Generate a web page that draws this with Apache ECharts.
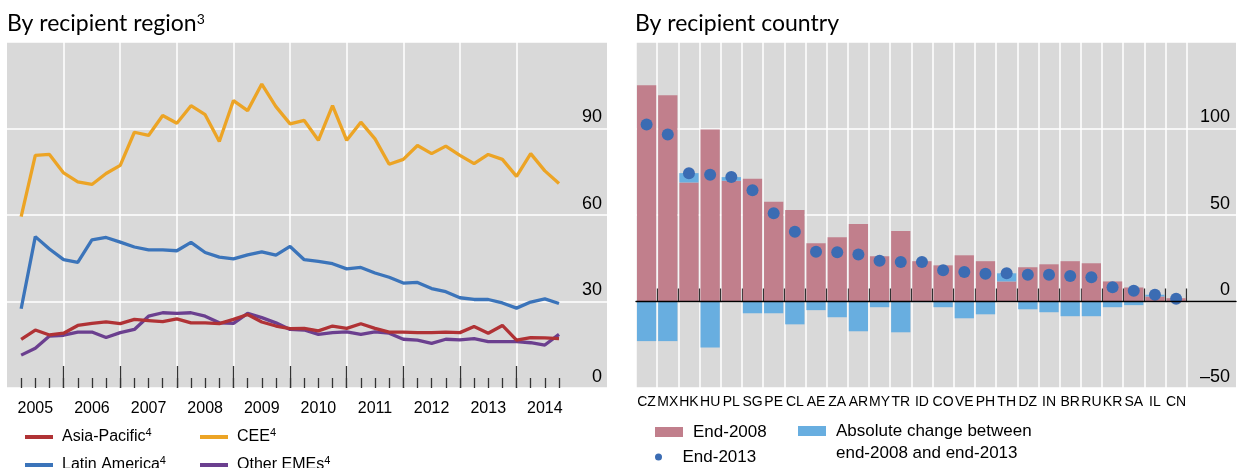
<!DOCTYPE html>
<html>
<head>
<meta charset="utf-8">
<script src="https://cdn.jsdelivr.net/npm/echarts@6.0.0/dist/echarts.min.js"></script>
<style>
  html, body { margin: 0; padding: 0; background: #fff; }
  #chart { width: 1238px; height: 468px; }
</style>
</head>
<body>
<div id="chart"></div>
<script>
// ---- left panel: by recipient region (quarter ends, first slot is end-2004 and empty)
const quarters = [
  '2004Q4',
  '2005Q1', '2005Q2', '2005Q3', '2005Q4',
  '2006Q1', '2006Q2', '2006Q3', '2006Q4',
  '2007Q1', '2007Q2', '2007Q3', '2007Q4',
  '2008Q1', '2008Q2', '2008Q3', '2008Q4',
  '2009Q1', '2009Q2', '2009Q3', '2009Q4',
  '2010Q1', '2010Q2', '2010Q3', '2010Q4',
  '2011Q1', '2011Q2', '2011Q3', '2011Q4',
  '2012Q1', '2012Q2', '2012Q3', '2012Q4',
  '2013Q1', '2013Q2', '2013Q3', '2013Q4',
  '2014Q1', '2014Q2', '2014Q3'
];
const asiaPacific = [null,
  16.9, 20.1, 18.4, 19.0, 21.7, 22.4, 22.9, 22.3, 23.8, 23.4, 23.0, 24.0,
  22.6, 22.6, 22.3, 23.8, 25.5, 22.9, 21.5, 20.6, 20.7, 19.8, 21.5, 20.7,
  22.3, 20.7, 19.4, 19.4, 19.2, 19.2, 19.4, 19.2, 21.3, 19.0, 21.7, 16.6,
  17.5, 17.4, 17.1];
const cee = [null,
  59.4, 80.7, 81.0, 74.6, 71.5, 70.6, 74.4, 77.2, 88.7, 87.6, 94.5, 91.8,
  97.9, 94.8, 85.5, 99.7, 96.2, 105.4, 97.6, 91.6, 92.8, 85.9, 97.9, 85.9,
  92.2, 86.4, 77.6, 79.3, 84.1, 81.3, 83.9, 80.7, 77.8, 81.0, 79.3, 73.4,
  81.3, 75.3, 70.9];
const latinAmerica = [null,
  27.5, 52.5, 48.2, 44.5, 43.6, 51.4, 52.2, 50.6, 48.9, 47.9, 47.9, 47.6,
  50.5, 47.0, 45.4, 44.8, 46.2, 47.2, 46.1, 49.1, 44.5, 43.9, 43.1, 41.3,
  41.8, 39.9, 38.4, 36.4, 36.6, 34.5, 33.4, 31.3, 30.7, 30.7, 29.5, 27.7,
  29.8, 30.9, 29.3];
const otherEMEs = [null,
  11.4, 13.8, 18.0, 18.3, 19.4, 19.4, 17.5, 19.2, 20.3, 24.9, 26.1, 25.9,
  26.1, 24.9, 22.6, 22.4, 25.9, 24.4, 22.6, 20.3, 20.1, 18.6, 19.2, 19.5,
  18.6, 19.5, 19.0, 16.9, 16.6, 15.5, 16.9, 16.7, 17.1, 16.1, 16.1, 16.1,
  15.7, 14.9, 18.6];

// ---- right panel: by recipient country
const countries = ['CZ', 'MX', 'HK', 'HU', 'PL', 'SG', 'PE', 'CL', 'AE', 'ZA', 'AR', 'MY', 'TR',
  'ID', 'CO', 'VE', 'PH', 'TH', 'DZ', 'IN', 'BR', 'RU', 'KR', 'SA', 'IL', 'CN'];
const end2008 = [125.0, 119.2, 68.8, 99.4, 69.8, 70.9, 57.6, 52.9, 33.7, 37.2, 44.8, 26.2, 40.7,
  23.3, 20.9, 26.7, 23.3, 11.6, 19.8, 21.5, 23.3, 22.1, 11.6, 8.1, 2.9, 1.9];
const absChange = [-22.9, -22.9, 5.4, -26.6, 2.1, -6.8, -6.8, -13.2, -5.0, -9.1, -17.2, -3.3, -17.8,
  -0.4, -3.3, -9.7, -7.4, 4.7, -4.5, -6.2, -8.5, -8.5, -3.3, -2.1, 1.0, -0.3];
const end2013 = [102.3, 96.5, 74.2, 73.3, 71.9, 64.3, 51.0, 40.3, 28.7, 28.5, 27.1, 23.6, 22.9,
  22.9, 18.0, 17.1, 16.1, 16.3, 15.5, 15.5, 14.7, 14.0, 8.3, 6.2, 3.9, 1.6];

const gray = '#d9d9d9';
const axisFont = 'Liberation Sans, Arial, sans-serif';
const titleFont = 'Lato, Noto Sans, sans-serif';
const tickColor = '#333';

let myChart = echarts.init(document.getElementById('chart'));

function hiddenAxis(gridIndex, extra) {
  return Object.assign({ gridIndex: gridIndex, show: false }, extra);
}

function lineSeries(name, color, data) {
  return {
    name: name,
    type: 'line',
    xAxisIndex: 1,
    yAxisIndex: 1,
    data: data,
    showSymbol: false,
    symbol: 'none',
    itemStyle: { color: color },
    lineStyle: { color: color, width: 3.3 },
    emphasis: { disabled: true }
  };
}

let supRich = { s: { fontSize: 11, verticalAlign: 'top', lineHeight: 11, fontFamily: axisFont } };

// legend for the lines, one column each
function regionLegend(names, left) {
  return {
    data: names,
    orient: 'vertical', left: left, top: 427, height: 80, padding: 0, itemGap: 8,
    itemWidth: 28, itemHeight: 4, icon: 'rect', selectedMode: false,
    formatter: n => n + '{s|4}',
    textStyle: { fontFamily: axisFont, fontSize: 16, color: '#000', lineHeight: 20, padding: [0, 0, 0, 4], rich: supRich }
  };
}

let option = {
  animation: false,
  title: [
    {
      text: 'By recipient region{s|3}',
      left: 7, top: 12, padding: 0,
      textStyle: {
        fontFamily: titleFont, fontSize: 23, fontWeight: 'normal', color: '#000',
        rich: { s: { fontSize: 14, verticalAlign: 'top', lineHeight: 12, fontFamily: titleFont, color: '#000' } }
      }
    },
    {
      text: 'By recipient country',
      left: 635, top: 12, padding: 0,
      textStyle: { fontFamily: titleFont, fontSize: 23, fontWeight: 'normal', color: '#000' }
    }
  ],
  legend: [
    regionLegend(['Asia-Pacific', 'Latin America'], 25),
    regionLegend(['CEE', 'Other EMEs'], 200),
    {
      data: ['End-2008'],
      left: 655, top: 422, padding: 0,
      itemWidth: 28, itemHeight: 10, icon: 'rect', selectedMode: false,
      textStyle: { fontFamily: axisFont, fontSize: 17, color: '#000', lineHeight: 20, padding: [0, 0, 0, 5] }
    },
    {
      data: ['End-2013'],
      left: 655, top: 447, padding: 0,
      itemWidth: 28, itemHeight: 7, icon: 'circle', selectedMode: false,
      textStyle: { fontFamily: axisFont, fontSize: 17, color: '#000', lineHeight: 20, padding: [0, 0, 0, 5] }
    },
    {
      data: ['Absolute change'],
      left: 798, top: 398, height: 80, padding: 0,
      itemWidth: 28, itemHeight: 10, icon: 'rect', selectedMode: false,
      // empty first line so the swatch sits beside the first text line
      formatter: () => '\nAbsolute change between\nend-2008 and end-2013',
      textStyle: { fontFamily: axisFont, fontSize: 17, color: '#000', lineHeight: 22, padding: [0, 0, 0, 5] }
    }
  ],
  grid: [
    // left: background with horizontal lines and labels
    { left: 7, top: 42, width: 600, height: 346, show: true, backgroundColor: gray, borderWidth: 0, outerBoundsMode: 'none' },
    // left: lines (quarter slots)
    { left: 7, top: 42, width: 552, height: 346, outerBoundsMode: 'none' },
    // left: long year ticks
    { left: 7, top: 42, width: 552, height: 346, outerBoundsMode: 'none' },
    // right: background
    { left: 636, top: 42, width: 600, height: 346, show: true, backgroundColor: gray, borderWidth: 0, outerBoundsMode: 'none' },
    // right: bars
    { left: 636, top: 42, width: 550.7, height: 346, outerBoundsMode: 'none' }
  ],
  xAxis: [
    hiddenAxis(0, { type: 'value', min: 0, max: 1 }),
    {
      gridIndex: 1, type: 'category', data: quarters, boundaryGap: false,
      axisLine: { show: false },
      axisTick: { show: true, inside: true, length: 10, interval: i => i > 0, lineStyle: { color: tickColor, width: 1.3 } },
      axisLabel: {
        interval: i => i % 4 === 2, formatter: v => v.slice(0, 4), margin: 13,
        fontFamily: axisFont, fontSize: 16, color: '#000'
      },
      splitLine: { show: true, interval: i => i > 0 && i % 4 === 0, lineStyle: { color: '#fff', width: 1.5 } }
    },
    {
      gridIndex: 2, type: 'category', data: quarters, boundaryGap: false,
      axisLine: { show: false },
      axisTick: { show: true, inside: true, length: 22, interval: i => i > 0 && i % 4 === 0, lineStyle: { color: tickColor, width: 1.3 } },
      axisLabel: { show: false },
      splitLine: { show: false }
    },
    {
      gridIndex: 3, type: 'value', min: 0, max: 1, z: 5,
      axisLine: { show: true, onZero: true, lineStyle: { color: '#000', width: 1.4 } },
      axisTick: { show: false }, axisLabel: { show: false }, splitLine: { show: false }
    },
    {
      gridIndex: 4, type: 'category', data: countries,
      axisLine: { show: false },
      axisTick: { show: true, inside: true, length: 13, interval: i => i > 0, lineStyle: { color: tickColor, width: 1.3 } },
      axisLabel: { interval: 0, margin: 7, fontFamily: axisFont, fontSize: 14, color: '#000' },
      splitLine: { show: true, interval: 0, lineStyle: { color: '#fff', width: 1.5 } }
    }
  ],
  yAxis: [
    {
      gridIndex: 0, type: 'value', min: 0, max: 120, interval: 30, position: 'right',
      axisLine: { show: false }, axisTick: { show: false },
      axisLabel: {
        inside: true, margin: 5, showMaxLabel: false, verticalAlign: 'bottom', padding: [0, 0, 2, 0],
        fontFamily: axisFont, fontSize: 18, color: '#000'
      },
      splitLine: { show: true, lineStyle: { color: '#fff', width: 1.5 } }
    },
    hiddenAxis(1, { type: 'value', min: 0, max: 120 }),
    hiddenAxis(2, { type: 'value', min: 0, max: 120 }),
    {
      gridIndex: 3, type: 'value', min: -50, max: 150, interval: 50, position: 'right',
      axisLine: { show: false }, axisTick: { show: false },
      axisLabel: {
        inside: true, margin: 6, showMaxLabel: false, verticalAlign: 'bottom', padding: [0, 0, 2, 0],
        fontFamily: axisFont, fontSize: 18, color: '#000',
        formatter: v => (v < 0 ? '\u2013' + Math.abs(v) : '' + v)
      },
      splitLine: { show: true, lineStyle: { color: '#fff', width: 1.5 } }
    },
    hiddenAxis(4, { type: 'value', min: -50, max: 150 })
  ],
  series: [
    lineSeries('Other EMEs', '#6b3f8f', otherEMEs),
    lineSeries('Latin America', '#3b74ba', latinAmerica),
    lineSeries('CEE', '#eca425', cee),
    lineSeries('Asia-Pacific', '#b03235', asiaPacific),
    {
      name: 'End-2008', type: 'bar', xAxisIndex: 4, yAxisIndex: 4, stack: 'c',
      barCategoryGap: '9%', data: end2008,
      itemStyle: { color: '#c17f8c' }, emphasis: { disabled: true }
    },
    {
      name: 'Absolute change', type: 'bar', xAxisIndex: 4, yAxisIndex: 4, stack: 'c',
      barCategoryGap: '9%', data: absChange,
      itemStyle: { color: '#68aee0' }, emphasis: { disabled: true }
    },
    {
      name: 'End-2013', type: 'scatter', xAxisIndex: 4, yAxisIndex: 4,
      symbolSize: 12, data: end2013, z: 4,
      itemStyle: { color: '#3b6cb3', opacity: 1 }, emphasis: { disabled: true }
    }
  ]
};

myChart.setOption(option);
</script>
</body>
</html>
